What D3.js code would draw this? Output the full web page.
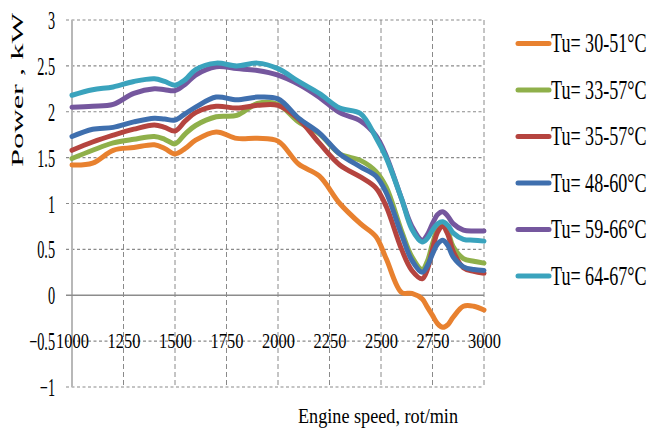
<!DOCTYPE html>
<html>
<head>
<meta charset="utf-8">
<script src="https://cdn.jsdelivr.net/npm/d3@7"></script>
<style>
  html, body { margin: 0; padding: 0; background: #fff; }
  svg { display: block; }
  text { font-family: "Liberation Serif", "Times New Roman", serif; fill: #000; }
</style>
</head>
<body>
<svg id="chart" width="651" height="437"></svg>
<script>
// Engine speed samples (rot/min)
const rpm = [1000, 1100, 1200, 1300, 1400, 1450, 1500, 1550, 1600, 1700, 1800, 1900, 2000,
             2100, 2200, 2300, 2400, 2475, 2525, 2600, 2650, 2700, 2725, 2750, 2775, 2800,
             2825, 2850, 2900, 2950, 3000];

// Power (kW) for each coolant temperature range
const tu30_51 = [1.42, 1.44, 1.58, 1.61, 1.64, 1.60, 1.54, 1.60, 1.69, 1.78, 1.71, 1.71, 1.68,
                 1.43, 1.30, 1.00, 0.78, 0.64, 0.40, 0.03, 0.02, -0.04, -0.13, -0.22, -0.31, -0.35,
                 -0.32, -0.24, -0.12, -0.12, -0.16];
const tu33_57 = [1.49, 1.58, 1.66, 1.70, 1.73, 1.70, 1.65, 1.76, 1.85, 1.945, 1.96, 2.09, 2.08,
                 1.89, 1.76, 1.54, 1.47, 1.35, 1.18, 0.70, 0.42, 0.28, 0.37, 0.56, 0.72, 0.77,
                 0.69, 0.53, 0.40, 0.37, 0.35];
const tu35_57 = [1.58, 1.67, 1.745, 1.81, 1.855, 1.83, 1.79, 1.90, 1.99, 2.06, 2.04, 2.07, 2.07,
                 1.92, 1.66, 1.42, 1.29, 1.17, 0.97, 0.50, 0.27, 0.18, 0.28, 0.50, 0.69, 0.75,
                 0.66, 0.48, 0.30, 0.26, 0.24];
const tu48_60 = [1.73, 1.81, 1.83, 1.89, 1.93, 1.92, 1.91, 1.98, 2.05, 2.16, 2.13, 2.16, 2.14,
                 1.93, 1.77, 1.54, 1.40, 1.30, 1.12, 0.66, 0.38, 0.25, 0.32, 0.45, 0.56, 0.60,
                 0.54, 0.42, 0.31, 0.28, 0.27];
const tu59_66 = [2.05, 2.06, 2.08, 2.20, 2.25, 2.24, 2.23, 2.30, 2.40, 2.49, 2.47, 2.45, 2.40,
                 2.30, 2.16, 1.99, 1.90, 1.74, 1.52, 1.05, 0.75, 0.60, 0.66, 0.78, 0.88, 0.91,
                 0.86, 0.78, 0.71, 0.70, 0.70];
const tu64_67 = [2.18, 2.24, 2.27, 2.33, 2.36, 2.33, 2.29, 2.35, 2.46, 2.53, 2.50, 2.53, 2.47,
                 2.33, 2.20, 2.04, 1.98, 1.72, 1.50, 1.05, 0.72, 0.58, 0.62, 0.71, 0.78, 0.80,
                 0.76, 0.68, 0.61, 0.60, 0.59];

const seriesNames = ["Tu= 30-51°C", "Tu= 33-57°C", "Tu= 35-57°C", "Tu= 48-60°C", "Tu= 59-66°C", "Tu= 64-67°C"];
const seriesValues = [tu30_51, tu33_57, tu35_57, tu48_60, tu59_66, tu64_67];
const seriesColors = ["#E8812F", "#8FB04A", "#B5443F", "#3F6FAE", "#75579E", "#3AA3BD"];

const xTicks = [1000, 1250, 1500, 1750, 2000, 2250, 2500, 2750, 3000];
const yTicks = [-1, -0.5, 0, 0.5, 1, 1.5, 2, 2.5, 3];

const svg = d3.select("#chart");

const x = d3.scaleLinear().domain([1000, 3000]).range([72, 484]);
const y = d3.scaleLinear().domain([-1, 3]).range([387, 20]);

// Horizontal dashed gridlines (zero line drawn solid below)
svg.append("g")
  .selectAll("line")
  .data(yTicks.filter(v => v !== 0))
  .join("line")
  .attr("x1", 66).attr("x2", x(3000))
  .attr("y1", d => y(d)).attr("y2", d => y(d))
  .attr("stroke", "#8a8a8a").attr("stroke-width", 1.2)
  .attr("stroke-dasharray", "3,2.5");

// Vertical dashed gridlines
svg.append("g")
  .selectAll("line")
  .data(xTicks.filter(v => v !== 1000))
  .join("line")
  .attr("x1", d => x(d)).attr("x2", d => x(d))
  .attr("y1", y(3)).attr("y2", y(-1))
  .attr("stroke", "#8a8a8a").attr("stroke-width", 1)
  .attr("stroke-dasharray", "5,3");

// Left value axis line
svg.append("line")
  .attr("x1", x(1000)).attr("x2", x(1000))
  .attr("y1", y(3)).attr("y2", y(-1))
  .attr("stroke", "#b8b8b8").attr("stroke-width", 2);

// Zero baseline
svg.append("line")
  .attr("x1", 66).attr("x2", x(3000))
  .attr("y1", y(0)).attr("y2", y(0))
  .attr("stroke", "#8c8c8c").attr("stroke-width", 1.5);

// Y axis tick labels
const yAxis = svg.append("g")
  .attr("transform", `translate(${x(1000) - 17},0)`)
  .call(d3.axisLeft(y).tickValues(yTicks).tickSize(0).tickPadding(0)
        .tickFormat(d => d3.format("")(d)));
yAxis.select(".domain").remove();
yAxis.selectAll("text")
  .attr("font-family", "Liberation Serif, serif")
  .attr("font-size", 25)
  .attr("fill", "#000")
  .attr("text-anchor", "end")
  .attr("dy", 0)
  .attr("y", 8.5)
  .each(function() {
    const w = this.getComputedTextLength();
    d3.select(this).attr("textLength", w * 0.57).attr("lengthAdjust", "spacingAndGlyphs");
  });

// X axis tick labels, sitting on the -0.5 gridline
const xAxis = svg.append("g")
  .attr("transform", `translate(0,${y(-0.5)})`)
  .call(d3.axisBottom(x).tickValues(xTicks).tickSize(0).tickPadding(0)
        .tickFormat(d3.format("d")));
xAxis.select(".domain").remove();
xAxis.selectAll("text")
  .attr("font-family", "Liberation Serif, serif")
  .attr("font-size", 21)
  .attr("fill", "#000")
  .attr("dy", 0)
  .attr("y", 6.5)
  .each(function() {
    const w = this.getComputedTextLength();
    d3.select(this).attr("textLength", w * 0.78).attr("lengthAdjust", "spacingAndGlyphs");
  });

// Series lines
const line = d3.line()
  .x((d, i) => x(rpm[i]))
  .y(d => y(d))
  .curve(d3.curveCatmullRom.alpha(0.5));

svg.append("g")
  .selectAll("path")
  .data(seriesValues)
  .join("path")
  .attr("d", d => line(d))
  .attr("fill", "none")
  .attr("stroke", (d, i) => seriesColors[i])
  .attr("stroke-width", 5)
  .attr("stroke-linejoin", "round")
  .attr("stroke-linecap", "round");

// Axis titles
svg.append("text")
  .attr("transform", `translate(23,90) rotate(-90)`)
  .attr("text-anchor", "middle")
  .attr("font-size", 17)
  .attr("textLength", 154)
  .attr("lengthAdjust", "spacingAndGlyphs")
  .text("Power , kW");

svg.append("text")
  .attr("x", 378).attr("y", 423)
  .attr("text-anchor", "middle")
  .attr("font-size", 20)
  .attr("textLength", 160)
  .attr("lengthAdjust", "spacingAndGlyphs")
  .text("Engine speed, rot/min");

// Legend
const legend = svg.append("g")
  .selectAll("g")
  .data(seriesNames)
  .join("g")
  .attr("transform", (d, i) => `translate(518,${43.5 + i * 46.5})`);

legend.append("line")
  .attr("x1", 0).attr("x2", 31)
  .attr("y1", 0).attr("y2", 0)
  .attr("stroke", (d, i) => seriesColors[i])
  .attr("stroke-width", 5)
  .attr("stroke-linecap", "round");

// Condensed legend labels: horizontal squeeze via scale transform
legend.append("text")
  .attr("transform", "translate(33,8.5) scale(0.645,1)")
  .attr("font-size", 28)
  .text(d => d);
</script>
</body>
</html>
